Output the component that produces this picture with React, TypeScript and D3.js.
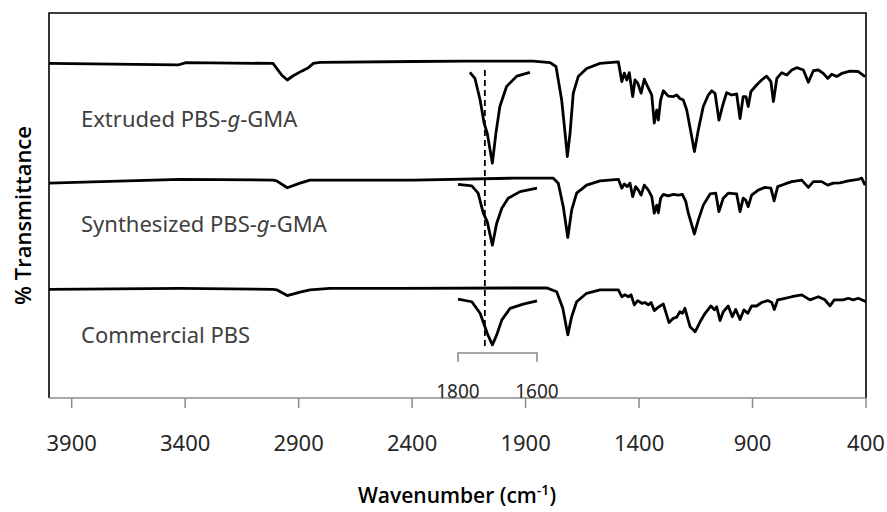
import React from "react";
import * as d3 from "d3";

// x: wavenumber (cm-1), y: % transmittance (offset traces, arbitrary units)
const xTicks = [3900, 3400, 2900, 2400, 1900, 1400, 900, 400];
const sampleNames = ["Extruded PBS-", "Synthesized PBS-", "Commercial PBS"];
const insetTicks = [1800, 1600];
const markerWavenumber = 1732;

const extruded: [number, number][] = [
  [4000, 86.9], [3432, 86.5], [3396, 87.1], [3013, 86.9], [2975, 83.9], [2950, 82.6], [2924, 83.7],
  [2887, 84.9], [2857, 85.8], [2835, 86.9], [2806, 87.2], [2395, 87.4], [2159, 87.5], [1867, 87.5],
  [1792, 87.1], [1766, 86.1], [1741, 77.4], [1726, 68.8], [1716, 62.7], [1704, 68.8], [1690, 79.1],
  [1668, 83.5], [1631, 85.6], [1572, 86.9], [1491, 87.3], [1476, 82.2], [1465, 84.4], [1454, 82.6],
  [1443, 84.5], [1428, 78.3], [1418, 82.6], [1406, 81.8], [1391, 79.2], [1377, 82.8], [1362, 80.9],
  [1344, 78.7], [1333, 71.4], [1322, 74.8], [1315, 72.2], [1305, 77.4], [1293, 79.8], [1271, 78.4],
  [1249, 78.3], [1234, 78.7], [1220, 77.8], [1205, 77.4], [1190, 74.8], [1175, 70.1], [1156, 64.0],
  [1139, 69.6], [1117, 75.7], [1095, 78.7], [1080, 79.8], [1065, 79.1], [1048, 72.2], [1029, 76.5],
  [1014, 79.3], [992, 78.7], [970, 79.0], [955, 72.6], [941, 78.3], [929, 78.3], [919, 75.7],
  [907, 79.6], [882, 81.3], [860, 82.6], [838, 83.6], [819, 82.2], [808, 77.0], [793, 83.0],
  [771, 84.5], [749, 83.9], [727, 85.2], [705, 85.8], [676, 85.2], [654, 82.0], [632, 85.0],
  [610, 85.2], [588, 84.3], [569, 83.0], [551, 84.1], [529, 83.5], [507, 84.3], [470, 84.9],
  [434, 84.8], [404, 83.5],
];

const synthesized: [number, number][] = [
  [4000, 55.8], [3423, 56.8], [3012, 56.6], [2997, 56.4], [2950, 54.6], [2894, 55.8], [2850, 56.6],
  [2395, 56.6], [1954, 57.1], [1778, 57.1], [1756, 55.8], [1734, 49.7], [1714, 41.7], [1697, 48.8],
  [1675, 53.2], [1631, 55.3], [1572, 56.4], [1491, 56.8], [1476, 54.5], [1465, 55.6], [1452, 54.9],
  [1440, 55.8], [1428, 52.3], [1415, 54.9], [1403, 54.0], [1391, 52.7], [1377, 55.3], [1359, 54.0],
  [1344, 52.3], [1333, 48.0], [1322, 50.1], [1315, 48.1], [1305, 51.9], [1293, 52.9], [1271, 52.5],
  [1249, 52.9], [1227, 52.7], [1209, 52.9], [1194, 51.0], [1183, 48.0], [1156, 42.6], [1139, 46.2],
  [1117, 50.1], [1087, 53.0], [1062, 53.2], [1048, 48.4], [1029, 51.9], [1007, 53.2], [970, 53.0],
  [955, 48.4], [941, 51.9], [930, 51.4], [919, 49.7], [904, 52.7], [875, 54.0], [845, 54.7],
  [819, 54.5], [805, 51.2], [789, 54.9], [757, 55.6], [727, 56.2], [683, 56.6], [654, 54.7],
  [632, 56.2], [595, 56.2], [569, 55.3], [544, 55.8], [515, 55.9], [478, 56.4], [434, 56.8],
  [419, 57.1], [404, 55.3],
];

const commercial: [number, number][] = [
  [4000, 28.2], [3423, 28.5], [3012, 28.2], [2997, 28.1], [2950, 26.6], [2894, 27.5], [2850, 28.1],
  [2762, 28.5], [2453, 28.5], [1807, 28.6], [1763, 27.6], [1736, 23.3], [1714, 16.4], [1697, 21.1],
  [1675, 25.0], [1631, 27.2], [1572, 28.1], [1491, 28.1], [1476, 26.3], [1462, 26.8], [1447, 26.3],
  [1435, 26.8], [1421, 24.2], [1406, 25.3], [1388, 24.6], [1374, 24.8], [1359, 24.2], [1347, 24.8],
  [1333, 22.7], [1315, 23.6], [1293, 24.4], [1268, 19.6], [1249, 20.7], [1234, 21.0], [1220, 22.4],
  [1209, 22.0], [1198, 23.3], [1175, 18.5], [1153, 17.2], [1131, 19.8], [1109, 22.0], [1083, 23.9],
  [1068, 22.9], [1058, 23.7], [1043, 20.1], [1029, 22.4], [1007, 23.9], [989, 21.1], [974, 23.0],
  [955, 20.4], [938, 22.9], [921, 22.0], [904, 23.9], [882, 23.9], [860, 24.8], [833, 25.3],
  [815, 24.8], [804, 23.0], [789, 25.5], [757, 25.9], [727, 26.3], [683, 26.8], [647, 25.5],
  [610, 26.3], [581, 25.5], [559, 23.9], [540, 25.5], [500, 25.5], [478, 25.9], [456, 25.5],
  [434, 25.9], [400, 25.0],
];

// expanded 1800-1600 cm-1 carbonyl region (own horizontal scale)
const extrudedInset: [number, number][] = [
  [1770, 84.6], [1757, 83.0], [1744, 77.4], [1734, 71.4], [1726, 68.8], [1713, 61.0], [1704, 68.8],
  [1694, 75.7], [1677, 80.9], [1651, 83.6], [1618, 84.6],
];
const synthesizedInset: [number, number][] = [
  [1800, 55.5], [1765, 55.1], [1749, 53.2], [1736, 48.0], [1726, 45.8], [1713, 39.7], [1702, 45.4],
  [1689, 49.3], [1673, 51.9], [1643, 53.6], [1600, 54.5],
];
const commercialInset: [number, number][] = [
  [1800, 25.7], [1765, 25.0], [1744, 22.0], [1726, 16.8], [1713, 13.8], [1702, 16.4], [1689, 20.3],
  [1668, 23.3], [1635, 24.4], [1600, 25.2],
];
const labelLevels = [70.4, 43.1, 14.2];
const markerRange = [85.2, 13.2];
const bracketLevels = [11.7, 9.4];

export default function App() {
  const W = 887, H = 512;
  const left = 49, right = 866, top = 13, bottom = 398;
  const x = d3.scaleLinear().domain([4000, 400]).range([left, right]);
  const y = d3.scaleLinear().domain([0, 100]).range([bottom, top]);
  const xi = d3.scaleLinear().domain([1800, 1600]).range([458, 537]);

  const line = d3.line<[number, number]>().x((d) => x(d[0])).y((d) => y(d[1]));
  const lineI = d3.line<[number, number]>().x((d) => xi(d[0])).y((d) => y(d[1]));

  const traces = [extruded, synthesized, commercial];
  const insets = [extrudedInset, synthesizedInset, commercialInset];
  const font = "'Noto Sans', 'Open Sans', sans-serif";

  return (
    <svg width={W} height={H} style={{ display: "block", position: "absolute", left: 0, top: 0 }}
      fontFamily={font}>
      <rect x={0} y={0} width={W} height={H} fill="#fff" />
      {/* frame */}
      <path d={`M${left},${bottom}V${top}H${right}V${bottom}`} fill="none" stroke="#000" strokeWidth={1.6} />
      <line x1={left} x2={right} y1={bottom} y2={bottom} stroke="#8c8c8c" strokeWidth={1.6} />
      {xTicks.map((t) => (
        <g key={t}>
          <line x1={x(t)} x2={x(t)} y1={bottom} y2={bottom + 10} stroke="#8c8c8c" strokeWidth={1.5} />
          <text x={x(t)} y={451} textAnchor="middle" fontSize={22} fill="#262626">{t}</text>
        </g>
      ))}
      {/* bracket for inset */}
      <path
        d={`M${xi(1800)},${y(bracketLevels[1])}V${y(bracketLevels[0])}H${xi(1600)}V${y(bracketLevels[1])}`}
        fill="none" stroke="#8c8c8c" strokeWidth={1.6} />
      {insetTicks.map((t) => (
        <text key={t} x={xi(t)} y={398} textAnchor="middle" fontSize={19} fill="#262626">{t}</text>
      ))}
      {/* traces */}
      {traces.map((d, i) => (
        <path key={i} d={line(d) || ""} fill="none" stroke="#000" strokeWidth={2.8} strokeLinejoin="round" />
      ))}
      {insets.map((d, i) => (
        <path key={i} d={lineI(d) || ""} fill="none" stroke="#000" strokeWidth={2.8} strokeLinejoin="round" />
      ))}
      <line x1={xi(markerWavenumber)} x2={xi(markerWavenumber)} y1={y(markerRange[0])} y2={y(markerRange[1])}
        stroke="#000" strokeWidth={1.8} strokeDasharray="6,4" />
      {/* sample labels */}
      {sampleNames.map((n, i) => (
        <text key={n} x={81} y={y(labelLevels[i])} fontSize={22} fill="#404040">
          {n}
          {i < 2 && <tspan fontStyle="italic">g</tspan>}
          {i < 2 && "-GMA"}
        </text>
      ))}
      {/* axis titles */}
      <text x={457} y={503} textAnchor="middle" fontSize={21} fontWeight={600} fill="#000"
        fontFamily="'Open Sans', 'Noto Sans', sans-serif">
        Wavenumber (cm<tspan dy={-8} fontSize={14}>-1</tspan><tspan dy={8}>)</tspan>
      </text>
      <text transform={`translate(31,${(top + bottom) / 2 + 10}) rotate(-90)`} textAnchor="middle"
        fontSize={22} fontWeight={600} fill="#000" fontFamily="'Open Sans', 'Noto Sans', sans-serif">% Transmittance</text>
    </svg>
  );
}
